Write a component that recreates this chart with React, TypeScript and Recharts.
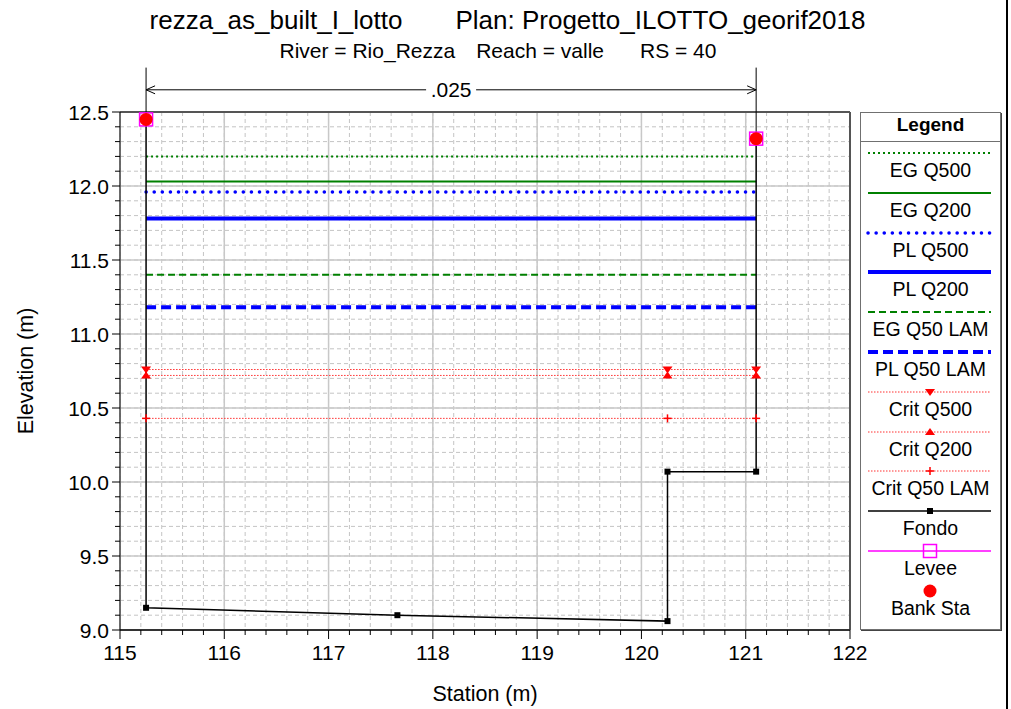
import React from 'react';
import {
  ComposedChart,
  Line,
  XAxis,
  YAxis,
  CartesianGrid,
  ReferenceLine,
  Legend,
} from 'recharts';

// ground profile (Fondo)
const fondoStation = [115.25, 115.25, 117.66, 120.25, 120.25, 121.1, 121.1];
const fondoElev = [12.45, 9.15, 9.1, 9.06, 10.07, 10.07, 12.32];

// left / right bank stations
const bankStation = [115.25, 121.1];
const bankElev = [12.45, 12.32];

// flat water surfaces, drawn bank to bank
const wsNames = ['EG Q500', 'EG Q200', 'PL Q500', 'PL Q200', 'EG Q50 LAM', 'PL Q50 LAM'];
const wsElev = [12.2, 12.03, 11.96, 11.78, 11.4, 11.18];

// critical depths
const critNames = ['Crit Q500', 'Crit Q200', 'Crit Q50 LAM'];
const critStation = [115.25, 120.25, 121.1];
const critElev = [10.76, 10.72, 10.43];

// manning n over the section
const manningN = '.025';
const nLineElev = 12.65;
const nTickTop = 12.8;

const xMajor = [115, 116, 117, 118, 119, 120, 121, 122];
const yMajor = [9.0, 9.5, 10.0, 10.5, 11.0, 11.5, 12.0, 12.5];

const FONT = '"Liberation Sans", Arial, sans-serif';

const steps = (a: number, b: number, s: number) => {
  const out: number[] = [];
  for (let v = a; v <= b + 1e-9; v += s) out.push(Math.round(v * 100) / 100);
  return out;
};
const xMinor = steps(115, 122, 0.2);
const yMinor = steps(9, 12.5, 0.1);

const isMajor = (v: number, step: number) => Math.abs(v / step - Math.round(v / step)) < 1e-6;

const wsStyle: Record<string, any> = {
  'EG Q500': { stroke: '#008000', strokeWidth: 2, strokeDasharray: '2 3' },
  'EG Q200': { stroke: '#008000', strokeWidth: 2 },
  'PL Q500': { stroke: '#0000ff', strokeWidth: 3.5, strokeDasharray: '0.1 8', strokeLinecap: 'round' },
  'PL Q200': { stroke: '#0000ff', strokeWidth: 4 },
  'EG Q50 LAM': { stroke: '#008000', strokeWidth: 2, strokeDasharray: '7 4' },
  'PL Q50 LAM': { stroke: '#0000ff', strokeWidth: 4, strokeDasharray: '10 5' },
};

const critStyle = { stroke: '#ff3030', strokeWidth: 1, strokeDasharray: '1.5 1.5' };

const toPts = (xs: number[], ys: number[]) => xs.map((x, i) => ({ x, y: ys[i] }));

function TriDown({ cx, cy }: any) {
  return <polygon points={`${cx - 5},${cy - 3} ${cx + 5},${cy - 3} ${cx},${cy + 4}`} fill="#ff0000" />;
}
function TriUp({ cx, cy }: any) {
  return <polygon points={`${cx - 5},${cy + 3} ${cx + 5},${cy + 3} ${cx},${cy - 4}`} fill="#ff0000" />;
}
function Plus({ cx, cy }: any) {
  return (
    <g stroke="#ff0000" strokeWidth={1.5}>
      <line x1={cx - 4} y1={cy} x2={cx + 4} y2={cy} />
      <line x1={cx} y1={cy - 4} x2={cx} y2={cy + 4} />
    </g>
  );
}
function Sq({ cx, cy }: any) {
  return <rect x={cx - 3} y={cy - 3} width={6} height={6} fill="#000" />;
}
function LeveeMark({ cx, cy }: any) {
  return <rect x={cx - 6.5} y={cy - 6.5} width={13} height={13} fill="none" stroke="#ff00ff" strokeWidth={1.5} />;
}
function BankMark({ cx, cy }: any) {
  return <circle cx={cx} cy={cy} r={6.5} fill="#ff0000" />;
}

const critMarks = [TriDown, TriUp, Plus];

const dotFn = (Mark: any) => (p: any) =>
  p.cx == null ? <g key={p.index} /> : <Mark key={p.index} cx={p.cx} cy={p.cy} />;

function YTick({ x, y, payload }: any) {
  const v = payload.value;
  const major = isMajor(v, 0.5);
  return (
    <g>
      <line x1={x - (major ? 8 : 5)} y1={y} x2={x} y2={y} stroke="#000" strokeWidth={1} />
      {major && (
        <text x={x - 11} y={y} dy="0.36em" textAnchor="end" fontSize={21} fontFamily={FONT} fill="#000">
          {v.toFixed(1)}
        </text>
      )}
    </g>
  );
}

function XTick({ x, y, payload }: any) {
  const v = payload.value;
  const major = isMajor(v, 1);
  return (
    <g>
      <line x1={x} y1={y} x2={x} y2={y + (major ? 9 : 5)} stroke="#000" strokeWidth={1} />
      {major && (
        <text x={x} y={y + 30} textAnchor="middle" fontSize={21} fontFamily={FONT} fill="#000">
          {v}
        </text>
      )}
    </g>
  );
}

function NArrow(props: any) {
  const { x1, y1, x2 } = props;
  const mid = (x1 + x2) / 2;
  const gap = 25;
  return (
    <g stroke="#000" strokeWidth={1} fill="none">
      <line x1={x1} y1={y1} x2={mid - gap} y2={y1} />
      <line x1={mid + gap} y1={y1} x2={x2} y2={y1} />
      <polyline points={`${x1 + 9},${y1 - 4} ${x1},${y1} ${x1 + 9},${y1 + 4}`} />
      <polyline points={`${x2 - 9},${y1 - 4} ${x2},${y1} ${x2 - 9},${y1 + 4}`} />
      <text x={mid} y={y1} dy="0.36em" textAnchor="middle" fontSize={21} fontFamily={FONT} fill="#000" stroke="none">
        {manningN}
      </text>
    </g>
  );
}

type LegendItem = { name: string; line?: any; mark?: any };
const legendItems: LegendItem[] = [
  ...wsNames.map((n) => ({ name: n, line: wsStyle[n] })),
  ...critNames.map((n, i) => ({ name: n, line: critStyle, mark: critMarks[i] })),
  { name: 'Fondo', line: { stroke: '#000', strokeWidth: 1.5 }, mark: Sq },
  { name: 'Levee', line: { stroke: '#ff00ff', strokeWidth: 1.5 }, mark: LeveeMark },
  { name: 'Bank Sta', mark: BankMark },
];

function LegendBox() {
  return (
    <div
      style={{
        width: 141,
        height: 518,
        border: '1px solid #707070',
        boxShadow: '1px 1px 0 #444',
        boxSizing: 'border-box',
        background: '#fff',
        fontFamily: FONT,
        color: '#000',
      }}
    >
      <div
        style={{
          height: 28,
          lineHeight: '24px',
          borderBottom: '1px solid #707070',
          textAlign: 'center',
          fontWeight: 'bold',
          fontSize: 19,
        }}
      >
        Legend
      </div>
      {legendItems.map((it) => {
        const Mark = it.mark;
        return (
          <div key={it.name} style={{ height: 39.8, position: 'relative' }}>
            <svg width={139} height={24} style={{ position: 'absolute', left: 0, top: 0 }}>
              {it.line && <line x1={7} y1={11} x2={130} y2={11} {...it.line} />}
              {Mark && <Mark cx={69} cy={11} />}
            </svg>
            <div
              style={{
                position: 'absolute',
                top: 18,
                left: 0,
                width: 139,
                textAlign: 'center',
                fontSize: 19.5,
                lineHeight: '20px',
              }}
            >
              {it.name}
            </div>
          </div>
        );
      })}
    </div>
  );
}

export default function App() {
  return (
    <div style={{ position: 'absolute', left: 0, top: 0, width: 1011, height: 709, background: '#fff', fontFamily: FONT }}>
      <div style={{ position: 'absolute', top: 5, left: 0, width: 1011, display: 'flex', justifyContent: 'center', gap: 53, fontSize: 26, paddingLeft: 4, boxSizing: 'border-box' }}>
        <span>rezza_as_built_I_lotto</span>
        <span>Plan: Progetto_ILOTTO_georif2018</span>
      </div>
      <div style={{ position: 'absolute', top: 39, left: 0, width: 1011, display: 'flex', justifyContent: 'center', fontSize: 21, paddingRight: 15, boxSizing: 'border-box' }}>
        <span>River = Rio_Rezza</span>
        <span style={{ marginLeft: 21 }}>Reach = valle</span>
        <span style={{ marginLeft: 36 }}>RS = 40</span>
      </div>
      <div style={{ position: 'absolute', left: 1006, top: 0, width: 2, height: 709, background: '#000' }} />
      <ComposedChart width={1011} height={709} margin={{ top: 112, right: 161, bottom: 0, left: 0 }}>
        <CartesianGrid stroke="#c4c4c4" strokeDasharray="4 3" strokeWidth={1} />
        <CartesianGrid
          stroke="#c8c8c8"
          strokeWidth={1.5}
          horizontalValues={yMajor}
          verticalValues={xMajor}
        />
        <XAxis
          type="number"
          dataKey="x"
          domain={[115, 122]}
          ticks={xMinor}
          interval={0}
          height={79}
          tickSize={0}
          tickMargin={0}
          tick={<XTick />}
          axisLine={{ stroke: '#333', strokeWidth: 2 }}
          tickLine={false}
          allowDataOverflow
          label={{
            content: ({ viewBox }: any) => (
              <text x={viewBox.x + viewBox.width / 2} y={701} textAnchor="middle" fontSize={21.5} fontFamily={FONT} fill="#000">
                Station (m)
              </text>
            ),
          }}
        />
        <YAxis
          type="number"
          dataKey="y"
          domain={[9, 12.5]}
          ticks={yMinor}
          interval={0}
          width={120}
          tickSize={0}
          tickMargin={0}
          tick={<YTick />}
          axisLine={{ stroke: '#000', strokeWidth: 1 }}
          tickLine={false}
          allowDataOverflow
          label={{
            content: ({ viewBox }: any) => (
              <text
                x={33}
                y={viewBox.y + viewBox.height / 2}
                transform={`rotate(-90, 33, ${viewBox.y + viewBox.height / 2})`}
                textAnchor="middle"
                fontSize={21.5}
                fontFamily={FONT}
                fill="#000"
              >
                Elevation (m)
              </text>
            ),
          }}
        />
        <ReferenceLine y={12.5} stroke="#555" strokeWidth={2} />
        <ReferenceLine x={122} stroke="#555" strokeWidth={2} />
        {bankStation.map((s, i) => (
          <ReferenceLine
            key={'nt' + i}
            segment={[{ x: s, y: bankElev[i] }, { x: s, y: nTickTop }]}
            ifOverflow="visible"
            stroke="#000"
            strokeWidth={1}
          />
        ))}
        <ReferenceLine
          segment={[{ x: bankStation[0], y: nLineElev }, { x: bankStation[1], y: nLineElev }]}
          ifOverflow="visible"
          shape={(p: any) => <NArrow {...p} />}
        />
        {wsNames.map((n, i) => (
          <Line
            key={n}
            name={n}
            data={toPts(bankStation, [wsElev[i], wsElev[i]])}
            dataKey="y"
            {...wsStyle[n]}
            dot={false}
            activeDot={false}
            isAnimationActive={false}
          />
        ))}
        {critNames.map((n, i) => (
          <Line
            key={n}
            name={n}
            data={toPts(critStation, critStation.map(() => critElev[i]))}
            dataKey="y"
            {...critStyle}
            dot={dotFn(critMarks[i])}
            activeDot={false}
            isAnimationActive={false}
          />
        ))}
        <Line
          name="Fondo"
          data={toPts(fondoStation, fondoElev)}
          dataKey="y"
          stroke="#000"
          strokeWidth={1.5}
          dot={dotFn(Sq)}
          activeDot={false}
          isAnimationActive={false}
        />
        <Line
          name="Levee"
          data={toPts(bankStation, bankElev)}
          dataKey="y"
          stroke="none"
          dot={dotFn(LeveeMark)}
          activeDot={false}
          isAnimationActive={false}
        />
        <Line
          name="Bank Sta"
          data={toPts(bankStation, bankElev)}
          dataKey="y"
          stroke="none"
          dot={dotFn(BankMark)}
          activeDot={false}
          isAnimationActive={false}
        />
        <Legend
          layout="vertical"
          align="center"
          verticalAlign="middle"
          wrapperStyle={{ left: 860, top: 112, width: 141, height: 518 }}
          content={() => <LegendBox />}
        />
      </ComposedChart>
    </div>
  );
}
